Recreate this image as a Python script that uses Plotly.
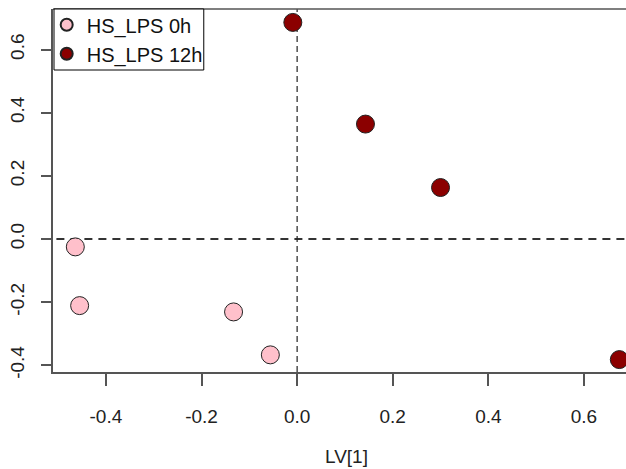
import plotly.graph_objects as go

# Latent-variable scores (LV[1] vs LV[2]) per sample group
groups = ["HS_LPS 0h", "HS_LPS 12h"]
lv1_0h = [-0.464, -0.455, -0.133, -0.056]
lv2_0h = [-0.025, -0.211, -0.231, -0.367]
lv1_12h = [-0.009, 0.143, 0.300, 0.674]
lv2_12h = [0.686, 0.364, 0.163, -0.382]
colors = ["#FFC0CB", "#8B0000"]

x_ticks = [-0.4, -0.2, 0.0, 0.2, 0.4, 0.6]
y_ticks = [-0.4, -0.2, 0.0, 0.2, 0.4, 0.6]

W, H = 626, 469
ML, MT, MB = 53.3, 9.3, 96.7
PW, PH = W - ML, H - MT - MB
axis_col = "#555555"
font_fam = "Liberation Sans, Arial, sans-serif"


def px_x(p):
    return (p - ML) / PW


def px_y(p):
    return 1 - (p - MT) / PH


fig = go.Figure()
for name, xs, ys, c in zip(groups, [lv1_0h, lv1_12h], [lv2_0h, lv2_12h], colors):
    fig.add_trace(go.Scatter(
        x=xs, y=ys, mode="markers", name=name,
        marker=dict(size=18, color=c, line=dict(color="#222222", width=1)),
        cliponaxis=False,
    ))

# reference lines through the origin
fig.add_shape(type="line", xref="paper", yref="y", x0=px_x(42.7), x1=1, y0=0, y1=0,
              line=dict(color="#333333", width=2, dash="8px,6px"), layer="below")
fig.add_shape(type="line", xref="x", yref="paper", x0=0, x1=0, y0=0, y1=1,
              line=dict(color="#222222", width=1.2, dash="6px,4px"), layer="below")
# upper frame edge
fig.add_shape(type="line", xref="paper", yref="paper", x0=0, x1=1, y0=1, y1=1,
              line=dict(color=axis_col, width=1.5))
# legend frame
fig.add_shape(type="rect", xref="paper", yref="paper",
              x0=px_x(54.3), x1=px_x(204), y0=px_y(70.3), y1=px_y(9.3),
              line=dict(color="black", width=1), fillcolor="white", layer="above")

fig.add_annotation(text="LV[1]", xref="paper", yref="paper",
                   x=px_x(347), y=px_y(457), xanchor="center", yanchor="middle",
                   showarrow=False, font=dict(size=19, color="#222222", family=font_fam))

fig.update_layout(
    width=W, height=H,
    margin=dict(l=ML, r=0, t=MT, b=MB, pad=0),
    paper_bgcolor="white", plot_bgcolor="white",
    font=dict(family=font_fam, color="#222222", size=19),
    showlegend=True,
    legend=dict(x=px_x(47), y=px_y(5.5), xanchor="left", yanchor="top",
                borderwidth=0, bgcolor="rgba(0,0,0,0)",
                font=dict(size=20, color="#111111"), itemsizing="constant",
                tracegroupgap=0),
    xaxis=dict(range=[-0.5107, 0.688], tickvals=x_ticks, ticktext=[f"{v:.1f}" for v in x_ticks],
               showgrid=False, zeroline=False, showline=True, linecolor=axis_col, linewidth=1.5,
               ticks="outside", ticklen=12, tickcolor=axis_col, tickwidth=1.5,
               ticklabelstandoff=14),
    yaxis=dict(range=[-0.4213, 0.7285], tickvals=y_ticks, ticktext=[f"{v:.1f}" for v in y_ticks],
               showgrid=False, zeroline=False, showline=True, linecolor=axis_col, linewidth=1.5,
               ticks="outside", ticklen=10, tickcolor=axis_col, tickwidth=1.5,
               tickangle=-90, ticklabelstandoff=10),
)

fig.write_html("out.html")
